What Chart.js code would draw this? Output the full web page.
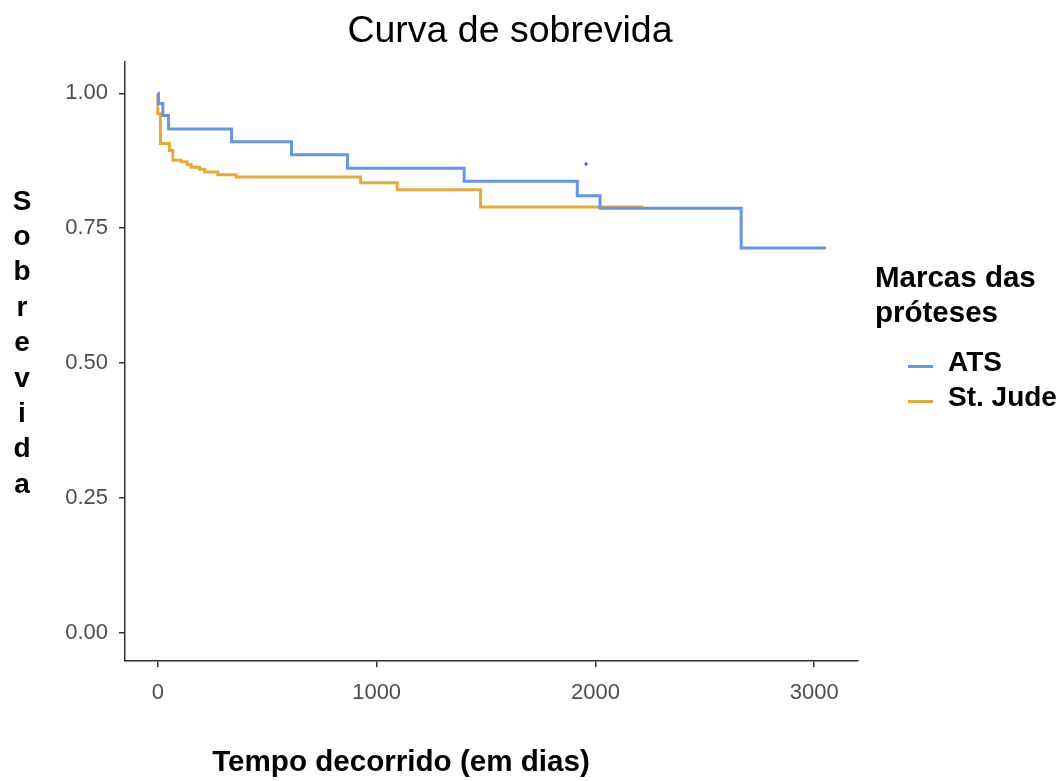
<!DOCTYPE html>
<html>
<head>
<meta charset="utf-8">
<script src="https://cdn.jsdelivr.net/npm/chart.js@4"></script>
<style>
  html, body { margin: 0; padding: 0; background: #ffffff; }
  #wrap { position: relative; width: 1064px; height: 781px; overflow: hidden; font-family: 'Liberation Sans', Arial, sans-serif; }
  #c { position: absolute; left: 0; top: 0; }
  .t { position: absolute; white-space: nowrap; color: #000; }
  #title { left: 310px; width: 400px; top: 11px; text-align: center; font-size: 37.5px; line-height: 37.5px; }
  #ytitle { left: 2px; width: 40px; top: 182.6px; text-align: center; font-size: 28px; line-height: 35.4px; font-weight: bold; white-space: normal; }
  #xtitle { left: 150px; width: 502px; top: 745.5px; text-align: center; font-size: 29.6px; line-height: 29.6px; font-weight: bold; }
  #legtitle { left: 875px; top: 258.5px; font-size: 29.5px; line-height: 35px; font-weight: bold; }
  .legkey { position: absolute; left: 908px; width: 25px; height: 3px; }
  .leglab { position: absolute; left: 948px; font-size: 28px; line-height: 28px; font-weight: bold; white-space: nowrap; }
</style>
</head>
<body>
<div id="wrap">
  <canvas id="c" width="1064" height="781"></canvas>
  <div id="title" class="t"></div>
  <div id="ytitle" class="t"></div>
  <div id="xtitle" class="t"></div>
  <div id="legtitle" class="t"></div>
  <div id="legend"></div>
</div>
<script>
// ---- Data ----
const chartTitle = "Curva de sobrevida";
const xAxisTitle = "Tempo decorrido (em dias)";
const yAxisTitle = "Sobrevida";
const legendTitleLines = ["Marcas das", "próteses"];
const seriesNames = ["ATS", "St. Jude"];
const seriesColors = ["#6495ED", "#E9A93A"];

const atsDays = [0, 3, 23, 49, 337, 611, 867, 1400, 1917, 2021, 2666, 3053];
const atsSurv = [1.0, 0.981, 0.959, 0.934, 0.910, 0.886, 0.861, 0.837, 0.810, 0.787, 0.713, 0.713];

const stjudeDays = [0, 0, 12, 53, 69, 107, 134, 152, 191, 214, 274, 358, 927, 1094, 1475, 2219];
const stjudeSurv = [1.0, 0.962, 0.907, 0.894, 0.876, 0.873, 0.868, 0.863, 0.859, 0.854, 0.849, 0.845, 0.834, 0.821, 0.789, 0.789];

const censorDays = [1957];
const censorSurv = [0.869];

const xTicks = [0, 1000, 2000, 3000];
const yTicks = [0, 0.25, 0.5, 0.75, 1.0];

// ---- Text overlays ----
document.getElementById('title').textContent = chartTitle;
document.getElementById('xtitle').textContent = xAxisTitle;
document.getElementById('ytitle').innerHTML = yAxisTitle.split('').map(ch => '<div>' + ch + '</div>').join('');
document.getElementById('legtitle').innerHTML = legendTitleLines.join('<br>');
const legendEl = document.getElementById('legend');
const keyY = [366, 401];
const labTop = [348, 383];
seriesNames.forEach((n, i) => {
  const k = document.createElement('div');
  k.className = 'legkey';
  k.style.top = (keyY[i] - 1.5) + 'px';
  k.style.background = seriesColors[i];
  legendEl.appendChild(k);
  const l = document.createElement('div');
  l.className = 'leglab';
  l.style.top = labTop[i] + 'px';
  l.textContent = n;
  legendEl.appendChild(l);
});

// ---- Chart ----
const toPts = (xs, ys) => xs.map((x, i) => ({ x: x, y: ys[i] }));

new Chart(document.getElementById('c'), {
  type: 'line',
  data: {
    datasets: [
      {
        label: seriesNames[0],
        data: toPts(atsDays, atsSurv),
        borderColor: seriesColors[0],
        borderWidth: 3,
        stepped: 'before',
        pointRadius: 0,
        fill: false
      },
      {
        label: seriesNames[1],
        data: toPts(stjudeDays, stjudeSurv),
        borderColor: seriesColors[1],
        borderWidth: 3,
        stepped: 'before',
        pointRadius: 0,
        fill: false
      },
      {
        label: 'censor',
        type: 'scatter',
        data: toPts(censorDays, censorSurv),
        backgroundColor: '#4a4af0',
        borderWidth: 0,
        pointRadius: 1.6
      }
    ]
  },
  options: {
    responsive: false,
    animation: false,
    devicePixelRatio: 1,
    layout: { padding: { left: 0, right: 206, top: 62, bottom: 0 } },
    plugins: { legend: { display: false }, title: { display: false }, tooltip: { enabled: false } },
    scales: {
      x: {
        type: 'linear',
        min: -150,
        max: 3200,
        afterFit: s => { s.height = 120; },
        afterBuildTicks: s => { s.ticks = xTicks.map(v => ({ value: v })); },
        ticks: {
          callback: v => String(v),
          color: '#4d4d4d',
          font: { family: 'Liberation Sans', size: 22 },
          padding: 13,
          maxRotation: 0,
          autoSkip: false
        },
        grid: { display: true, drawOnChartArea: false, drawTicks: true, tickLength: 6, color: '#333333', lineWidth: 1.5 },
        border: { display: true, color: '#333333', width: 1.5 }
      },
      y: {
        type: 'linear',
        min: -0.0525,
        max: 1.058,
        afterFit: s => { s.width = 125; },
        afterBuildTicks: s => { s.ticks = yTicks.map(v => ({ value: v })); },
        ticks: {
          callback: v => Number(v).toFixed(2),
          color: '#4d4d4d',
          font: { family: 'Liberation Sans', size: 22 },
          padding: 11,
          autoSkip: false
        },
        grid: { display: true, drawOnChartArea: false, drawTicks: true, tickLength: 6, color: '#333333', lineWidth: 1.5 },
        border: { display: true, color: '#333333', width: 1.5 }
      }
    }
  }
});
</script>
</body>
</html>
